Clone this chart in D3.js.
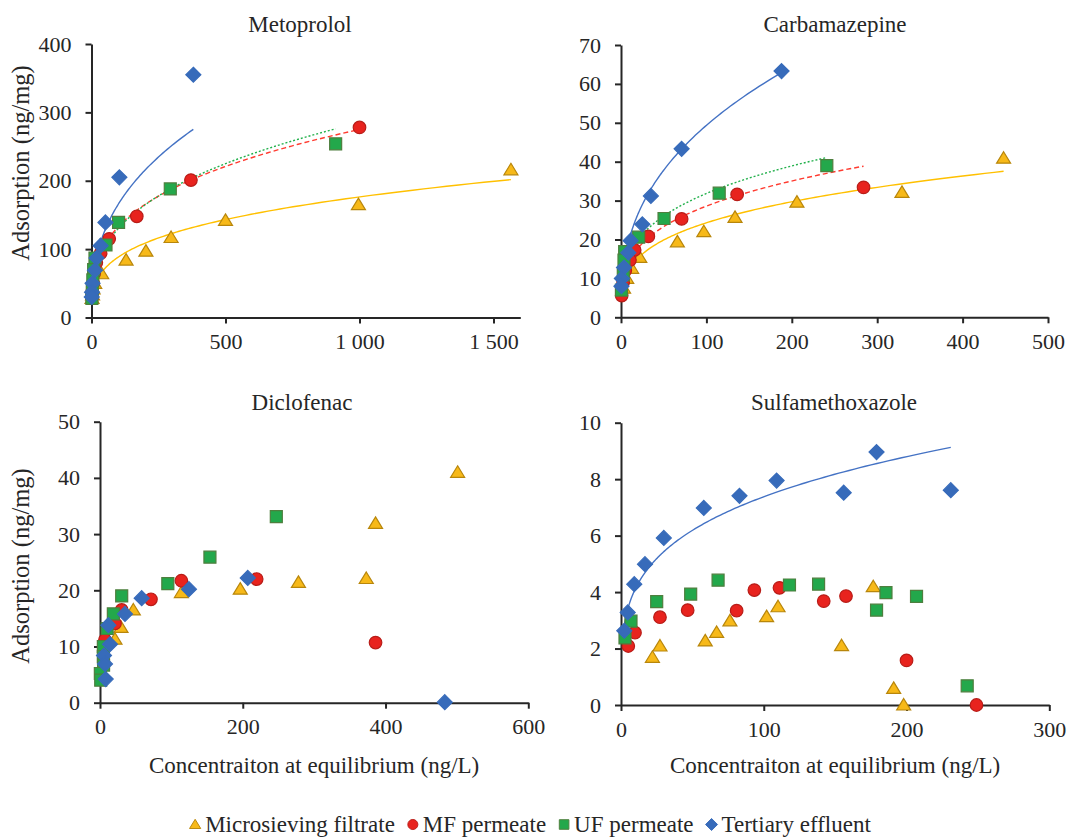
<!DOCTYPE html>
<html lang="en">
<head>
<meta charset="UTF-8">
<title>Adsorption isotherms</title>
<script src="https://d3js.org/d3.v7.min.js"></script>
<style>
  body { margin: 0; background: #fff; }
  text { font-family: "Liberation Serif", "Times New Roman", serif; fill: #262626; }
</style>
</head>
<body>
<script>
// series order: microsieving filtrate, MF permeate, UF permeate, tertiary effluent
var seriesNames = ["Microsieving filtrate", "MF permeate", "UF permeate", "Tertiary effluent"];

// Metoprolol  [C_eq ng/L, q ng/mg]
var metoMicro = [[1565,216],[996,165],[500,142],[297,117],[203,97],[129,84],[38,64],[12,50],[6,42],[4,33],[2,28]];
var metoMF    = [[1000,278],[371,201],[169,148],[66,115],[34,94],[18,80],[10,65],[6,50],[3,38],[1.5,30]];
var metoUF    = [[911,254],[294,188],[101,139],[54,106],[13,87],[8,70],[5,55],[3,40],[1.5,28]];
var metoTert  = [[380,355],[104,205],[52,139],[34,105],[19,87],[13,69],[4,50],[2,37],[1,30]];
var metoFitK  = [22.2, 31, 27.2, 28.8];
var metoFitM  = [0.30, 0.316, 0.34, 0.38];
var metoXTicks = [0, 500, 1000, 1500];
var metoYTicks = [0, 100, 200, 300, 400];

// Carbamazepine
var carbMicro = [[448,40.9],[329,32.1],[206,29.6],[133.5,25.7],[97,22],[66,19.4],[22,15.4],[12.5,12.6],[6.7,10],[3,7.5]];
var carbMF    = [[284,33.4],[136,31.6],[71,25.3],[32,20.8],[16,17.3],[10.5,14.7],[5,12],[2.5,9],[0.8,5.6]];
var carbUF    = [[241,39],[115,31.9],[50.4,25.4],[20.7,20.6],[4.3,16.9],[3.5,14.7],[2.7,10.9],[0.5,7]];
var carbTert  = [[188,63.3],[71,43.3],[35,31.2],[25,23.9],[11.3,19.7],[8.6,16.6],[3.5,12.8],[1,10],[0.5,8]];
var carbFitK  = [6.39, 7.38, 8.37, 8.42];
var carbFitM  = [0.29, 0.294, 0.29, 0.384];
var carbXTicks = [0, 100, 200, 300, 400, 500];
var carbYTicks = [0, 10, 20, 30, 40, 50, 60, 70];

// Diclofenac (no fitted curves)
var dicloMicro = [[501,41],[386,31.9],[373,22.1],[278,21.4],[196.5,20.2],[114,19.6],[46.7,16.5],[29.4,13.4],[21,11.3]];
var dicloMF    = [[386,10.7],[219.5,22],[114,21.7],[71.4,18.4],[30.4,16.5],[21,14.1],[7,11.2]];
var dicloUF    = [[247,33.1],[154,25.9],[95,21.2],[30.4,19],[18.7,15.8],[10,13.2],[4.7,10],[4.7,8.2],[5,6.7],[0.5,5.2],[1,4]];
var dicloTert  = [[483,0.1],[207,22.2],[124.6,20.2],[58.4,18.6],[35,15.8],[11.7,13.8],[14,10.4],[5.6,8.4],[7,6.9],[8,4.2]];
var dicloXTicks = [0, 200, 400, 600];
var dicloYTicks = [0, 10, 20, 30, 40, 50];

// Sulfamethoxazole (fit only for tertiary effluent)
var sulfaMicro = [[22,1.69],[27.3,2.09],[59,2.27],[67,2.57],[76.3,2.98],[102,3.13],[110,3.48],[154.5,2.1],[176.7,4.19],[191,0.59],[198,0]];
var sulfaMF    = [[5.1,2.09],[9.8,2.56],[27.3,3.11],[46.7,3.36],[81,3.34],[93.4,4.07],[111,4.15],[142,3.68],[157.6,3.86],[200,1.58],[249,0]];
var sulfaUF    = [[2.8,2.38],[7,2.97],[25,3.66],[48.8,3.93],[68,4.42],[118,4.25],[138.4,4.28],[179,3.36],[185.6,3.98],[207,3.85],[242.5,0.68]];
var sulfaTert  = [[2.3,2.63],[4.7,3.28],[9.3,4.28],[16.8,4.99],[30,5.92],[58,6.98],[83,7.41],[109,7.95],[156,7.52],[179,8.96],[231,7.61]];
var sulfaFitK  = [null, null, null, 2.29];
var sulfaFitM  = [null, null, null, 0.254];
var sulfaXTicks = [0, 100, 200, 300];
var sulfaYTicks = [0, 2, 4, 6, 8, 10];

var W = 1069, H = 837;
var serif = "'Liberation Serif', 'Times New Roman', serif";
var fills   = ["#F7B919", "#E8231E", "#23A84B", "#376BBA"];
var strokes = ["#B8860B", "#B81D18", "#4E7F3E", "#376BBA"];
var lineCols = ["#FFC000", "#FF3B30", "#22B04B", "#4472C4"];
var lineDash = [null, "5,3", "2,2", null];

var fmt = d3.formatLocale({decimal: ".", thousands: " ", grouping: [3], currency: ["", ""]}).format(",");

var panels = [
  {title: "Metoprolol", tx: 300, ty: 32, series: [metoMicro, metoMF, metoUF, metoTert], K: metoFitK, M: metoFitM,
   xMax: 1600, yMax: 400, xTicks: metoXTicks, yTicks: metoYTicks, x0: 91.5, x1: 520.3, y0: 317.5, y1: 44, ylab: 163, xlab: false},
  {title: "Carbamazepine", tx: 835, ty: 32, series: [carbMicro, carbMF, carbUF, carbTert], K: carbFitK, M: carbFitM,
   xMax: 500, yMax: 70, xTicks: carbXTicks, yTicks: carbYTicks, x0: 621, x1: 1048, y0: 317.3, y1: 45, ylab: false, xlab: false},
  {title: "Diclofenac", tx: 302, ty: 410, series: [dicloMicro, dicloMF, dicloUF, dicloTert], K: null, M: null,
   xMax: 600, yMax: 50, xTicks: dicloXTicks, yTicks: dicloYTicks, x0: 100, x1: 528.3, y0: 702.7, y1: 421.7, ylab: 566, xlab: true},
  {title: "Sulfamethoxazole", tx: 834, ty: 410, series: [sulfaMicro, sulfaMF, sulfaUF, sulfaTert], K: sulfaFitK, M: sulfaFitM,
   xMax: 300, yMax: 10, xTicks: sulfaXTicks, yTicks: sulfaYTicks, x0: 621, x1: 1049.3, y0: 705, y1: 422.7, ylab: false, xlab: true}
];

// marker shapes, centred on 0,0
function markerPath(i) {
  if (i === 0) return "M0,-6.5L7,5L-7,5Z";
  if (i === 1) return d3.symbol(d3.symbolCircle, 124)();
  if (i === 2) return "M-6,-6H6V6H-6Z";
  return "M0,-7.5L7.5,0L0,7.5L-7.5,0Z";
}

var svg = d3.select("body").append("svg").attr("width", W).attr("height", H)
  .style("font-family", serif);

panels.forEach(function(p) {
  var x = d3.scaleLinear().domain([0, p.xMax]).range([p.x0, p.x1]);
  var y = d3.scaleLinear().domain([0, p.yMax]).range([p.y0, p.y1]);
  var g = svg.append("g");

  var ax = g.append("g").attr("transform", "translate(0," + p.y0 + ")")
    .call(d3.axisBottom(x).tickValues(p.xTicks).tickFormat(fmt).tickSize(6).tickSizeOuter(0).tickPadding(10));
  var ay = g.append("g").attr("transform", "translate(" + p.x0 + ",0)")
    .call(d3.axisLeft(y).tickValues(p.yTicks).tickFormat(fmt).tickSize(6).tickSizeOuter(0).tickPadding(14));
  [ax, ay].forEach(function(a) {
    a.attr("font-family", null).style("font-family", serif);
    a.select(".domain").attr("stroke", "#262626").attr("stroke-width", 2);
    a.selectAll(".tick line").attr("stroke", "#262626").attr("stroke-width", 2);
    a.selectAll(".tick text").attr("font-size", 22).attr("fill", "#262626").style("font-family", serif);
  });

  g.append("text").attr("x", p.tx).attr("y", p.ty).attr("text-anchor", "middle")
    .attr("font-size", 23).text(p.title);

  // Freundlich fit lines (q = K C^m) over each series' range
  if (p.K) {
    p.series.forEach(function(s, i) {
      if (p.K[i] == null) return;
      var ext = d3.extent(s, function(d) { return d[0]; });
      var lo = Math.max(ext[0], 0.5);
      var pts = d3.range(0, 201).map(function(k) {
        var c = lo * Math.pow(ext[1] / lo, k / 200);
        return [c, p.K[i] * Math.pow(c, p.M[i])];
      });
      g.append("path").datum(pts)
        .attr("fill", "none").attr("stroke", lineCols[i]).attr("stroke-width", 1.4)
        .attr("stroke-dasharray", lineDash[i])
        .attr("d", d3.line().x(function(d) { return x(d[0]); }).y(function(d) { return y(d[1]); }));
    });
  }

  p.series.forEach(function(s, i) {
    g.append("g").selectAll("path").data(s).enter().append("path")
      .attr("d", markerPath(i))
      .attr("transform", function(d) { return "translate(" + x(d[0]) + "," + y(d[1]) + ")"; })
      .attr("fill", fills[i]).attr("stroke", strokes[i]).attr("stroke-width", 1.2);
  });

  if (p.ylab) {
    g.append("text").attr("transform", "translate(29," + p.ylab + ") rotate(-90)")
      .attr("text-anchor", "middle").attr("font-size", 24.5).text("Adsorption (ng/mg)");
  }
  if (p.xlab) {
    g.append("text").attr("x", (p.x0 + p.x1) / 2).attr("y", 773).attr("text-anchor", "middle")
      .attr("font-size", 23).text("Concentraiton at equilibrium (ng/L)");
  }
});

// legend
var leg = svg.append("g");
var items = leg.selectAll("g").data(seriesNames).enter().append("g");
items.append("path").attr("d", function(d, i) { return markerPath(i); })
  .attr("fill", function(d, i) { return fills[i]; })
  .attr("stroke", function(d, i) { return strokes[i]; })
  .attr("stroke-width", 1.2)
  .attr("transform", "scale(0.8)");
items.append("text").attr("x", 10).attr("y", 7.5).attr("font-size", 23).text(function(d) { return d; });
var xpos = 0, offs = [];
items.each(function() {
  offs.push(xpos);
  xpos += 10 + this.querySelector("text").getComputedTextLength() + 18;
});
var total = xpos - 18 + 6;
var start = 530 - total / 2 + 6;
items.attr("transform", function(d, i) { return "translate(" + (start + offs[i]) + ",824.5)"; });
</script>
</body>
</html>
